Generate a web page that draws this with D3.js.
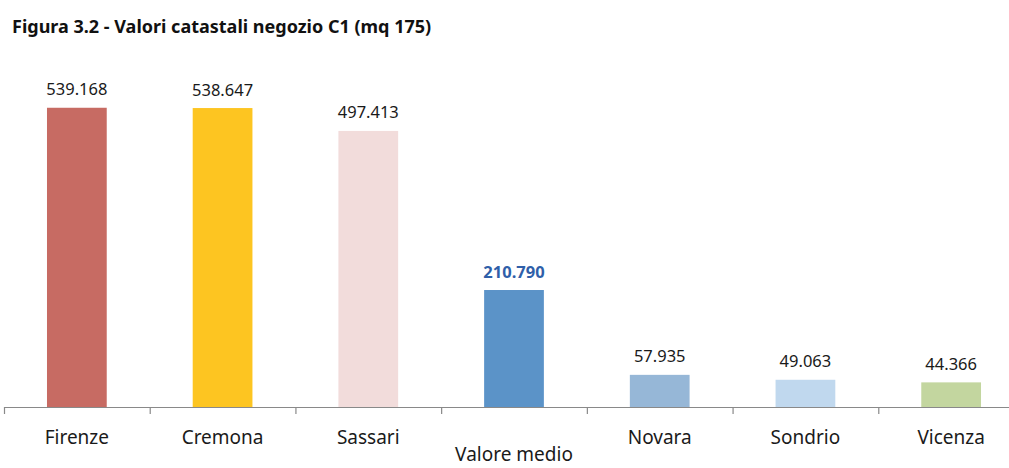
<!DOCTYPE html>
<html>
<head>
<meta charset="utf-8">
<script src="https://cdn.jsdelivr.net/npm/d3@7"></script>
<style>
  html, body { margin: 0; padding: 0; background: #fff; }
  svg { display: block; }
</style>
</head>
<body>
<svg id="chart"></svg>
<script>
// data
const categories = ["Firenze", "Cremona", "Sassari", "Valore medio", "Novara", "Sondrio", "Vicenza"];
const values = [539.168, 538.647, 497.413, 210.790, 57.935, 49.063, 44.366];
const colors = ["#C76B63", "#FDC521", "#F2DCDB", "#5B93C8", "#96B7D7", "#C0D8EE", "#C3D69F"];
const highlight = "Valore medio";

const width = 1009, height = 468;
const fontFamily = "'Noto Sans', 'Open Sans', sans-serif";

const svg = d3.select("#chart")
    .attr("width", width)
    .attr("height", height)
    .attr("font-family", fontFamily);

// title
svg.append("text")
    .attr("x", 12)
    .attr("y", 33)
    .attr("font-size", 18)
    .attr("font-weight", "bold")
    .attr("fill", "#111")
    .text("Figura 3.2 - Valori catastali negozio C1 (mq 175)");

// scales (plot runs past the right edge, as in the reference)
const x = d3.scaleBand()
    .domain(categories)
    .range([4, 1024])
    .paddingInner(0.59)
    .paddingOuter(0.295);

const y = d3.scaleLinear()
    .domain([0, 600])
    .range([407, 74]);

// bars
svg.append("g")
    .selectAll("rect")
    .data(categories)
    .join("rect")
    .attr("x", d => x(d))
    .attr("y", (d, i) => y(values[i]))
    .attr("width", x.bandwidth())
    .attr("height", (d, i) => y(0) - y(values[i]))
    .attr("fill", (d, i) => colors[i]);

// value labels
const fmt = v => v.toFixed(3);
svg.append("g")
    .selectAll("text")
    .data(categories)
    .join("text")
    .attr("x", d => x(d) + x.bandwidth() / 2)
    .attr("y", (d, i) => y(values[i]) - 12.5)
    .attr("text-anchor", "middle")
    .attr("font-size", 16.5)
    .attr("font-weight", d => d === highlight ? "bold" : "normal")
    .attr("fill", d => d === highlight ? "#2F5FA9" : "#1a1a1a")
    .text((d, i) => fmt(values[i]));

// x axis: line plus ticks at band boundaries
const axis = svg.append("g").attr("stroke", "#898989").attr("stroke-width", 1.2);
axis.append("line")
    .attr("x1", 4).attr("x2", width)
    .attr("y1", y(0) + 0.5).attr("y2", y(0) + 0.5);
axis.selectAll("line.tick")
    .data(d3.range(categories.length + 1))
    .join("line")
    .attr("class", "tick")
    .attr("x1", i => 4 + i * x.step() + 0.5)
    .attr("x2", i => 4 + i * x.step() + 0.5)
    .attr("y1", y(0))
    .attr("y2", y(0) + 7);

// category labels ("Valore medio" drops a line, as Excel wrapped it)
svg.append("g")
    .selectAll("text")
    .data(categories)
    .join("text")
    .attr("x", d => x(d) + x.bandwidth() / 2)
    .attr("y", d => d === highlight ? 461 : 444)
    .attr("text-anchor", "middle")
    .attr("font-size", 19)
    .attr("fill", "#1a1a1a")
    .text(d => d);
</script>
</body>
</html>
